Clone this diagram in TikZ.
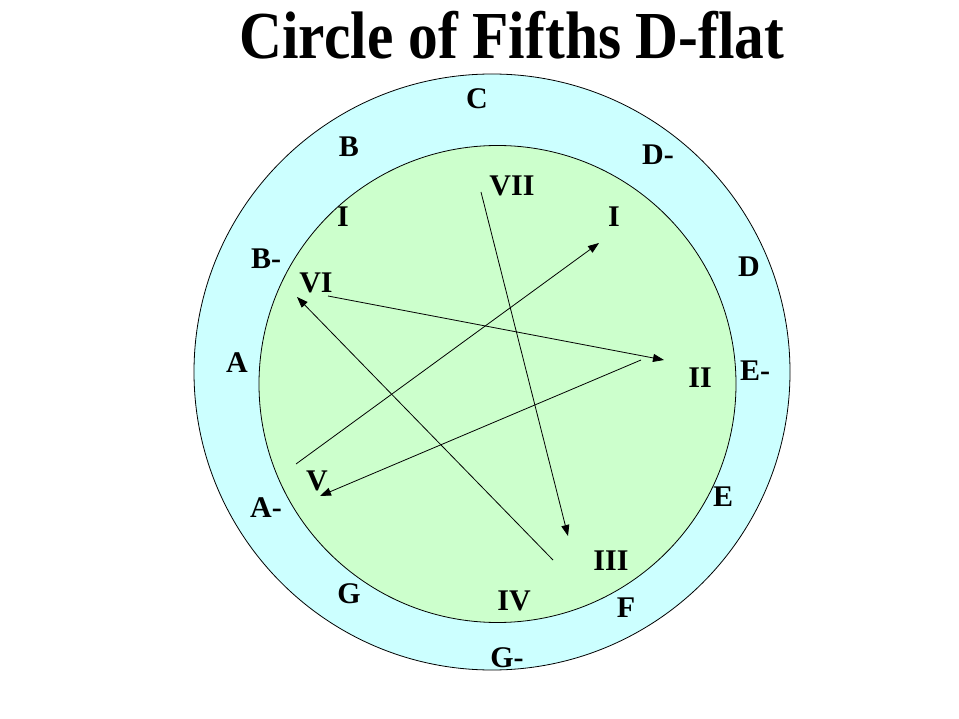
\documentclass[tikz,border=0pt]{standalone}
\usepackage{fontspec}
\usepackage{graphicx}
\setmainfont{Liberation Serif}[BoldFont={Liberation Serif Bold}]
\newfontfamily\titlefont{Liberation Serif Bold}
\usetikzlibrary{arrows.meta}
\definecolor{outerfill}{HTML}{CCFFFF}
\definecolor{innerfill}{HTML}{CCFFCC}
\begin{document}
\begin{tikzpicture}[x=1pt,y=-1pt,
  lbl/.style={font=\titlefont\fontsize{30}{30}\selectfont, inner sep=0pt},
  ring/.style={draw=black, line width=0.8pt},
  conn/.style={draw=black, line width=0.8pt, -{Triangle[length=11pt,width=8pt]}}]
\useasboundingbox (0,0) rectangle (959,719);
\fill[white] (0,0) rectangle (959,719);
% title
\node[font=\titlefont\fontsize{60}{60}\selectfont, inner sep=0pt, anchor=base] (title) at (512,59) {\scalebox{0.99}[1.12]{Circle of Fifths D-flat}};
% circles
\path[ring, fill=outerfill] (492,372) circle[radius=298];
\path[ring, fill=innerfill] (497.5,384) circle[radius=238.5];
% outer note names
\node[lbl] (nC)  at (477,99)  {C};
\node[lbl] (nB)  at (349,147) {B};
\node[lbl] (nDb) at (658,155) {D-};
\node[lbl] (nBb) at (266,259) {B-};
\node[lbl] (nD)  at (749,267) {D};
\node[lbl] (nA)  at (237,363) {A};
\node[lbl] (nEb) at (755,371) {E-};
\node[lbl] (nAb) at (266,508) {A-};
\node[lbl] (nE)  at (723,497) {E};
\node[lbl] (nG)  at (349,594) {G};
\node[lbl] (nF)  at (626,608) {F};
\node[lbl] (nGb) at (507,658) {G-};
% inner degrees
\node[lbl] (dVII) at (512,186) {VII};
\node[lbl] (dIa)  at (343,217) {I};
\node[lbl] (dIb)  at (614,217) {I};
\node[lbl] (dVI)  at (316,283) {VI};
\node[lbl] (dII)  at (700,378) {II};
\node[lbl] (dV)   at (317,481) {V};
\node[lbl] (dIII) at (611,561) {III};
\node[lbl] (dIV)  at (514,601) {IV};
% connector end points
\coordinate (s1) at (481,192);   \coordinate (e1) at (568,536);
\coordinate (s2) at (328,296);   \coordinate (e2) at (664,360);
\coordinate (s3) at (641,360);   \coordinate (e3) at (320,496);
\coordinate (s4) at (296,464);   \coordinate (e4) at (599,243);
\coordinate (s5) at (553,560);   \coordinate (e5) at (297,297);
\draw[conn] (s1) -- (e1);
\draw[conn] (s2) -- (e2);
\draw[conn] (s3) -- (e3);
\draw[conn] (s4) -- (e4);
\draw[conn] (s5) -- (e5);
\end{tikzpicture}
\end{document}
